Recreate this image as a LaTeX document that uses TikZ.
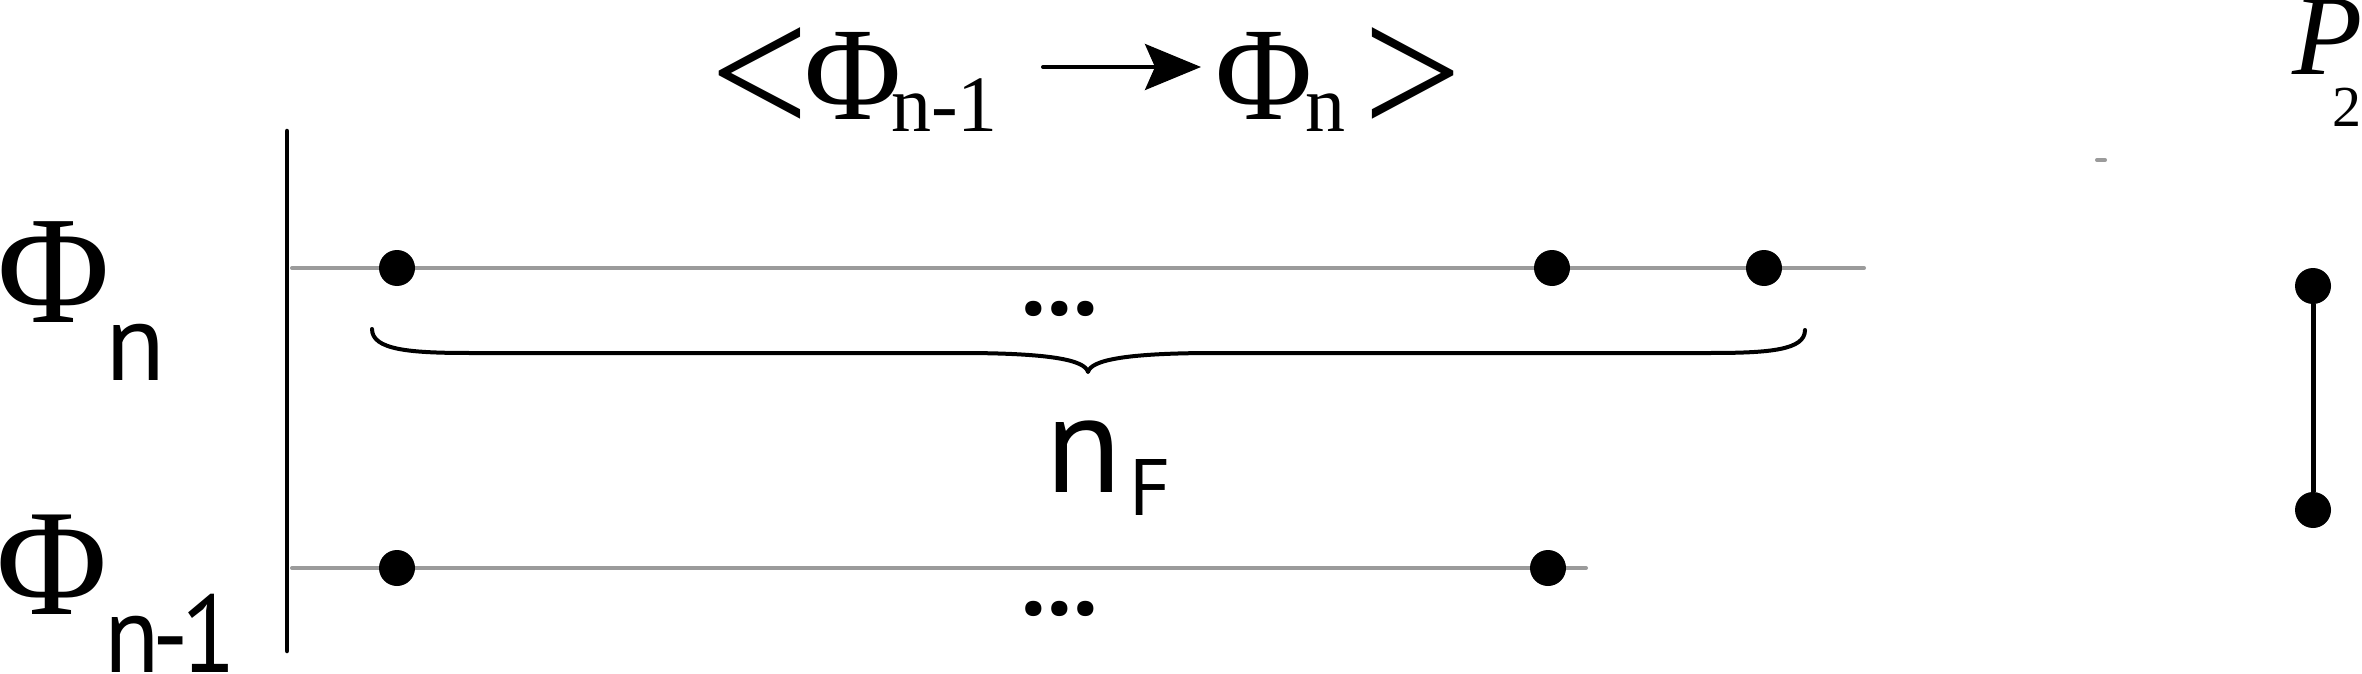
\documentclass[tikz,border=0pt]{standalone}
\usepackage{fontspec}
\usetikzlibrary{arrows.meta}
\newfontfamily\tms{Liberation Serif}
\newfontfamily\sns{PT Sans}
\definecolor{lgray}{RGB}{155,155,155}
\newcommand{\fsz}[1]{\fontsize{#1pt}{#1pt}\selectfont}
\begin{document}
\begin{tikzpicture}[x=1pt,y=-1pt,
  lbl/.style={inner sep=0pt, outer sep=0pt, anchor=base},
  sublbl/.style={inner sep=0pt, outer sep=0pt, anchor=base west},
  dotnode/.style={circle, fill=black, inner sep=0pt, minimum size=36pt},
  gline/.style={line width=4pt, draw=lgray, line cap=round},
  bline/.style={line width=4.5pt, draw=black, line cap=round},
  brace/.style={line width=4pt, draw=black, line cap=round, line join=round}]
\useasboundingbox (0,0) rectangle (2362,674);
\fill[white] (0,0) rectangle (2362,674);

% top formula
\node[inner sep=0pt, anchor=north] (lt) at (760,27) {\tms\fsz{190}\scalebox{0.92}[1]{<}};
\node[lbl] (phA) at (853,120) {\tms\fsz{133}Φ};
\node[sublbl] (subA) at (891,132) {\tms\fsz{80}n-1};
\coordinate (arS) at (1043,67);
\coordinate (arE) at (1201,67);
\draw[line width=4pt, line cap=round, -{Stealth[length=56pt,width=46pt,inset=10pt]}] (arS) -- (arE);
\node[lbl] (phB) at (1264,120) {\tms\fsz{133}Φ};
\node[sublbl] (subB) at (1305,132) {\tms\fsz{80}n};
\node[inner sep=0pt, anchor=north] (gt) at (1413,27) {\tms\fsz{190}\scalebox{0.92}[1]{>}};

% P_2
\node[lbl] (P) at (2328,75) {\tms\itshape\fsz{115}P};
\node[lbl] (two) at (2347,127) {\tms\fsz{58}2};

% left labels
\node[lbl] (phN) at (54,322) {\tms\fsz{154}Φ};
\node[lbl] (subN) at (136,380) {\sns\fsz{110}n};
\node[lbl] (phM) at (52,614) {\tms\fsz{152}Φ};
\node[sublbl] (subM) at (104,672) {\sns\fsz{110}\scalebox{0.92}[1]{n\kern-7pt-\kern-9pt1}};

% vertical bar
\coordinate (vT) at (287,131);
\coordinate (vB) at (287,651);
\draw[bline] (vT) -- (vB);

% gray lines
\coordinate (uS) at (292,268);
\coordinate (uE) at (1864,268);
\coordinate (lS) at (292,568);
\coordinate (lE) at (1586,568);
\draw[gline] (uS) -- (uE);
\draw[gline] (lS) -- (lE);

% dots
\node[dotnode] (u1) at (397,268) {};
\node[dotnode] (u2) at (1552,268) {};
\node[dotnode] (u3) at (1764,268) {};
\node[dotnode] (l1) at (397,568) {};
\node[dotnode] (l2) at (1548,568) {};

% ellipses
\node[lbl] (ellU) at (1060,315) {\sns\bfseries\fsz{100}...};
\node[lbl] (ellL) at (1060,615) {\sns\bfseries\fsz{100}...};

% brace
\coordinate (bL) at (372,329);
\coordinate (bR) at (1805,330);
\coordinate (bT) at (1088,372);
\draw[brace] (bL) .. controls (372,350) and (410,353) .. (470,353)
  -- (960,353) .. controls (1050,353) and (1085,360) .. (bT)
  .. controls (1091,360) and (1126,353) .. (1216,353)
  -- (1710,353) .. controls (1770,353) and (1805,350) .. (bR);

% n_F
\node[lbl] (nF) at (1084,492) {\sns\fsz{140}n};
\node[lbl] (F) at (1150,515) {\sns\fsz{80}F};

% stray gray mark
\coordinate (gA) at (2097,160);
\coordinate (gB) at (2105,160);
\draw[gline] (gA) -- (gB);

% right pair
\node[dotnode] (r1) at (2313,286) {};
\node[dotnode] (r2) at (2313,510) {};
\draw[line width=5pt] (r1) -- (r2);
\end{tikzpicture}
\end{document}
